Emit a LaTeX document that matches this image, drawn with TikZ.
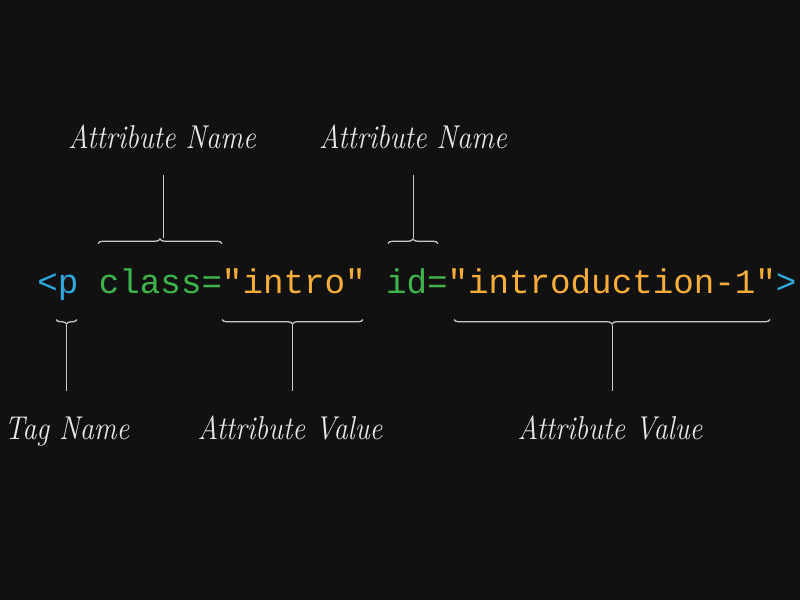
\documentclass[tikz,border=0pt]{standalone}
\usepackage{fontspec}
\newfontfamily\codefont{Liberation Mono}
\usetikzlibrary{decorations.pathreplacing}
\definecolor{bg}{HTML}{111111}
\definecolor{tagblue}{HTML}{2EA8DF}
\definecolor{attrgreen}{HTML}{3DB54A}
\definecolor{valorange}{HTML}{F7AD3A}
\definecolor{bracegrey}{HTML}{C8C8C8}
\definecolor{labelgrey}{HTML}{E8E8E8}
\tikzset{
  code/.style={anchor=base west, inner sep=0pt, font=\codefont\fontsize{34.2}{40}\selectfont},
  lbl/.style={anchor=base, inner sep=0pt, text=labelgrey, font=\fontsize{33}{40}\selectfont\itshape},
  bracetop/.style={draw=bracegrey, line width=1.3pt, decorate, decoration={brace, amplitude=4.5pt}},
  bracebot/.style={draw=bracegrey, line width=1.3pt, decorate, decoration={brace, amplitude=4.5pt, mirror}},
  leader/.style={draw=bracegrey, line width=0.8pt},
}
\newcommand{\lab}[1]{\scalebox{0.86}[1]{#1}}
\begin{document}
\begin{tikzpicture}[x=1pt,y=-1pt]
\fill[bg] (0,0) rectangle (800,600);
\useasboundingbox (0,0) rectangle (800,600);
% code tokens
\def\cw{20.51}
\node[code, text=tagblue]   (lt)    at (37.2+0*\cw,293) {<};
\node[code, text=tagblue]   (tag)   at (37.2+1*\cw,293) {p};
\node[code, text=attrgreen] (cls)   at (37.2+3*\cw,293) {class=};
\node[code, text=valorange] (v1)    at (37.2+9*\cw,293) {"intro"};
\node[code, text=attrgreen] (idn)   at (37.2+17*\cw,293) {id=};
\node[code, text=valorange] (v2)    at (37.2+20*\cw,293) {"introduction-1"};
\node[code, text=tagblue]   (gt)    at (37.2+36*\cw,293) {>};
% labels
\node[lbl] (L1) at (162,148) {\lab{Attribute Name}};
\node[lbl] (L2) at (413,148) {\lab{Attribute Name}};
\node[lbl] (L3) at (67,439) {\lab{Tag Name}};
\node[lbl] (L4) at (290,439) {\lab{Attribute Value}};
\node[lbl] (L5) at (610,439) {\lab{Attribute Value}};
% braces
\draw[bracetop] (98,243.5) -- (222,243.5);
\draw[bracetop] (388,243.5) -- (438,243.5);
\draw[bracebot] (56,319.5) -- (77,319.5);
\draw[bracebot] (222,319.5) -- (363,319.5);
\draw[bracebot] (454,319.5) -- (770,319.5);
% leader coordinates
\coordinate (t1) at (163,238);
\coordinate (e1) at (163,175);
\coordinate (t2) at (413,238);
\coordinate (e2) at (413,175);
\coordinate (t3) at (66.5,325);
\coordinate (e3) at (66.5,391);
\coordinate (t4) at (292.5,325);
\coordinate (e4) at (292.5,391);
\coordinate (t5) at (612,325);
\coordinate (e5) at (612,391);
\draw[leader] (t1) -- (e1);
\draw[leader] (t2) -- (e2);
\draw[leader] (t3) -- (e3);
\draw[leader] (t4) -- (e4);
\draw[leader] (t5) -- (e5);
\end{tikzpicture}
\end{document}
